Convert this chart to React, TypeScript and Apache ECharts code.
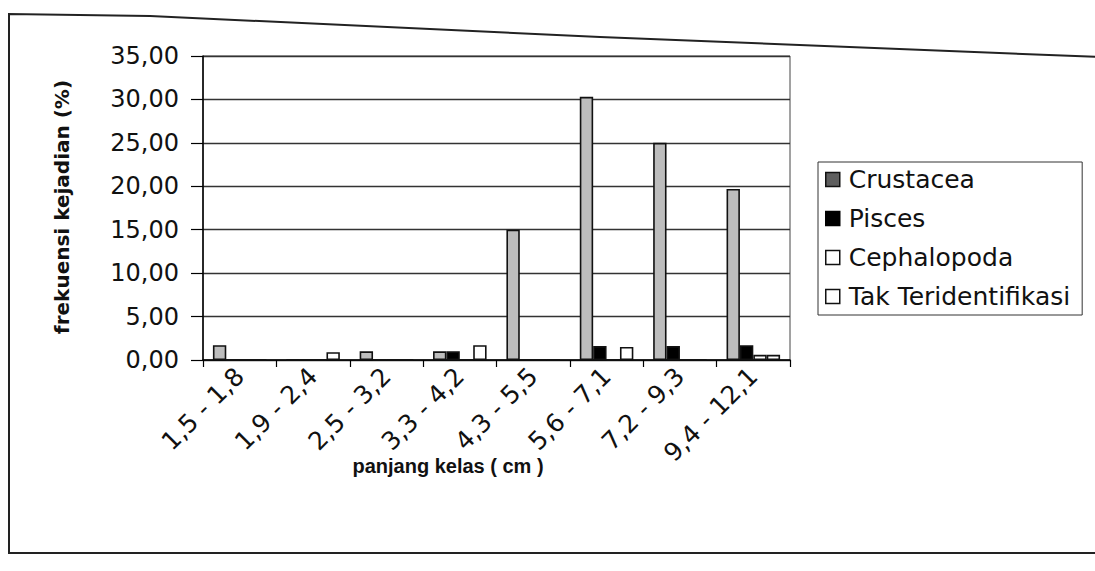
import React, { useEffect, useRef } from "react";
import * as echarts from "echarts";

const categories = ["1,5 - 1,8", "1,9 - 2,4", "2,5 - 3,2", "3,3 - 4,2", "4,3 - 5,5", "5,6 - 7,1", "7,2 - 9,3", "9,4 - 12,1"];
const crustacea = [1.7, 0, 1.0, 1.0, 15.0, 30.3, 25.0, 19.7];
const pisces = [0, 0, 0, 1.0, 0, 1.6, 1.6, 1.7];
const cephalopoda = [0, 0, 0, 0, 0, 0, 0, 0.6];
const takTeridentifikasi = [0, 0.9, 0, 1.7, 0, 1.5, 0, 0.6];
const yMin = 0;
const yMax = 35;
const yStep = 5;

const fmt = (v: number) => v.toFixed(2).replace(".", ",");

export default function App() {
  const ref = useRef<HTMLDivElement>(null);
  useEffect(() => {
    if (!ref.current) return;
    const chart = echarts.init(ref.current, null, { renderer: "svg" });
    const border = { borderColor: "#111", borderWidth: 1.6 };
    chart.setOption({
      animation: false,
      backgroundColor: "#fff",
      grid: {
        left: 203,
        top: 56,
        width: 587,
        height: 304,
        show: true,
        borderColor: "#444",
        borderWidth: 1,
        backgroundColor: "transparent",
      },
      legend: {
        orient: "vertical",
        left: 818,
        top: 162,
        padding: [5, 12, 6, 7],
        itemGap: 14,
        itemWidth: 14,
        itemHeight: 14,
        icon: "rect",
        borderColor: "#333",
        borderWidth: 1,
        textStyle: { fontFamily: "DejaVu Sans", fontSize: 25, color: "#111", padding: [0, 0, 0, 4] },
        data: [
          { name: "Crustacea", itemStyle: { color: "#5e5e5e", borderColor: "#111", borderWidth: 1.5 } },
          { name: "Pisces", itemStyle: { color: "#000", borderColor: "#000", borderWidth: 1.5 } },
          { name: "Cephalopoda", itemStyle: { color: "#fff", borderColor: "#111", borderWidth: 1.5 } },
          { name: "Tak Teridentifikasi", itemStyle: { color: "#fff", borderColor: "#111", borderWidth: 1.5 } },
        ],
      },
      xAxis: {
        type: "category",
        data: categories,
        axisLine: { lineStyle: { color: "#000", width: 1.5 } },
        axisTick: { show: true, length: 7, lineStyle: { color: "#000", width: 1.2 } },
        axisLabel: {
          rotate: 45,
          margin: 12,
          interval: 0,
          fontFamily: "DejaVu Sans",
          fontSize: 25,
          color: "#111",
        },
      },
      yAxis: {
        type: "value",
        min: yMin,
        max: yMax,
        interval: yStep,
        axisLine: { show: true, lineStyle: { color: "#000", width: 1.5 } },
        axisTick: { show: true, length: 12, lineStyle: { color: "#000", width: 1.2 } },
        axisLabel: {
          margin: 24,
          formatter: (v: number) => fmt(v),
          fontFamily: "DejaVu Sans",
          fontSize: 24,
          color: "#111",
        },
        splitLine: { show: true, lineStyle: { color: "#333", width: 1.3 } },
      },
      series: [
        { name: "Crustacea", type: "bar", data: crustacea, barGap: "0%", barCategoryGap: "27%", itemStyle: { color: "#bdbdbd", ...border } },
        { name: "Pisces", type: "bar", data: pisces, barGap: "0%", barCategoryGap: "27%", itemStyle: { color: "#000", ...border } },
        { name: "Cephalopoda", type: "bar", data: cephalopoda, barGap: "0%", barCategoryGap: "27%", itemStyle: { color: "#fff", ...border } },
        { name: "Tak Teridentifikasi", type: "bar", data: takTeridentifikasi, barGap: "0%", barCategoryGap: "27%", itemStyle: { color: "#fff", ...border } },
      ],
      graphic: [
        {
          type: "polyline",
          shape: { points: [[1100, 57], [600, 37], [150, 16], [9, 14], [9, 553], [1100, 553]] },
          style: { stroke: "#222", lineWidth: 2, fill: "none" },
          silent: true,
        },
        {
          type: "text",
          x: 62,
          y: 207,
          rotation: Math.PI / 2,
          style: {
            text: "frekuensi kejadian (%)",
            fontFamily: "DejaVu Sans",
            fontWeight: "bold",
            fontSize: 20,
            fill: "#111",
            align: "center",
            verticalAlign: "middle",
          },
        },
        {
          type: "text",
          x: 448,
          y: 466,
          style: {
            text: "panjang kelas ( cm )",
            fontFamily: "Liberation Sans",
            fontWeight: "bold",
            fontSize: 20,
            fill: "#111",
            align: "center",
            verticalAlign: "middle",
          },
        },
      ],
    });
    return () => chart.dispose();
  }, []);
  return (
    <div
      ref={ref}
      style={{ position: "absolute", left: 0, top: 0, width: 1095, height: 571, background: "#fff" }}
    />
  );
}
